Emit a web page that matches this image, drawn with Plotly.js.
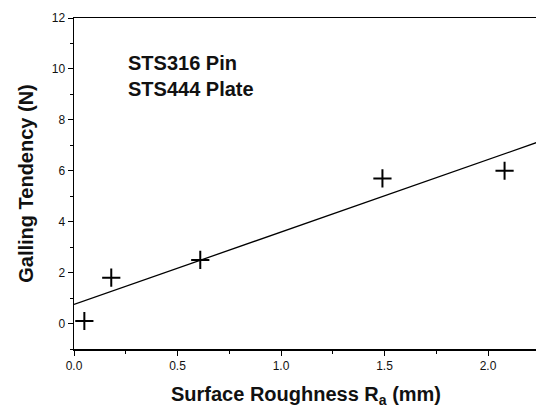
<!DOCTYPE html>
<html><head><meta charset="utf-8">
<script src="https://cdn.plot.ly/plotly-3.0.1.min.js"></script>
<style>html,body{margin:0;padding:0;overflow:hidden;background:#fff}#chart{width:540px;height:410px}</style>
</head><body><div id="chart"></div>
<script>
const roughness = [0.05, 0.18, 0.61, 1.49, 2.08];
const galling = [0.1, 1.8, 2.5, 5.7, 6.0];
const fitX = [0, 2.25];
const fitY = [0.75, 7.15];
const xTicks = [0, 0.5, 1.0, 1.5, 2.0];
const xTickLabels = ['0.0', '0.5', '1.0', '1.5', '2.0'];
const yTicks = [0, 2, 4, 6, 8, 10, 12];

const fnt = 'Liberation Sans, Arial, sans-serif';
const data = [
  {x: fitX, y: fitY, mode: 'lines', line: {color: '#000', width: 1.3}, hoverinfo: 'skip'},
  {x: roughness, y: galling, mode: 'markers',
   marker: {symbol: 'cross-thin-open', size: 13, color: '#000', line: {color: '#000', width: 2}}}
];
const layout = {
  width: 540, height: 410,
  margin: {l: 74, r: 2, t: 18, b: 61},
  showlegend: false,
  paper_bgcolor: '#fff', plot_bgcolor: '#fff',
  xaxis: {
    range: [0, 2.2415], tickvals: xTicks, ticktext: xTickLabels,
    ticks: 'outside', ticklen: 5, tickwidth: 1, tickcolor: '#000',
    minor: {dtick: 0.25, ticks: 'outside', ticklen: 3, tickcolor: '#000'},
    showline: true, linecolor: '#000', linewidth: 1.5, mirror: true,
    showgrid: false, zeroline: false,
    tickfont: {family: fnt, size: 12, color: '#111'},
    title: {text: '<b>Surface Roughness R<sub>a</sub> (mm)</b>', font: {family: fnt, size: 20, color: '#111'}, standoff: 15}
  },
  yaxis: {
    range: [-1, 12], tickvals: yTicks,
    ticks: 'outside', ticklen: 5, tickwidth: 1, tickcolor: '#000',
    minor: {dtick: 1, ticks: 'outside', ticklen: 3, tickcolor: '#000'},
    showline: true, linecolor: '#000', linewidth: 1.5, mirror: true,
    showgrid: false, zeroline: false,
    tickfont: {family: fnt, size: 12, color: '#111'},
    title: {text: '<b>Galling Tendency (N)</b>', font: {family: fnt, size: 20, color: '#111'}, standoff: 12}
  },
  annotations: [
    {xref: 'paper', yref: 'paper', x: 0.112, y: 0.826, xanchor: 'left', yanchor: 'middle', showarrow: false,
     align: 'left', text: '<b>STS316 Pin<br>STS444 Plate</b>', font: {family: fnt, size: 20, color: '#111'}}
  ]
};
Plotly.newPlot('chart', data, layout, {displayModeBar: false, staticPlot: true});
</script></body></html>
